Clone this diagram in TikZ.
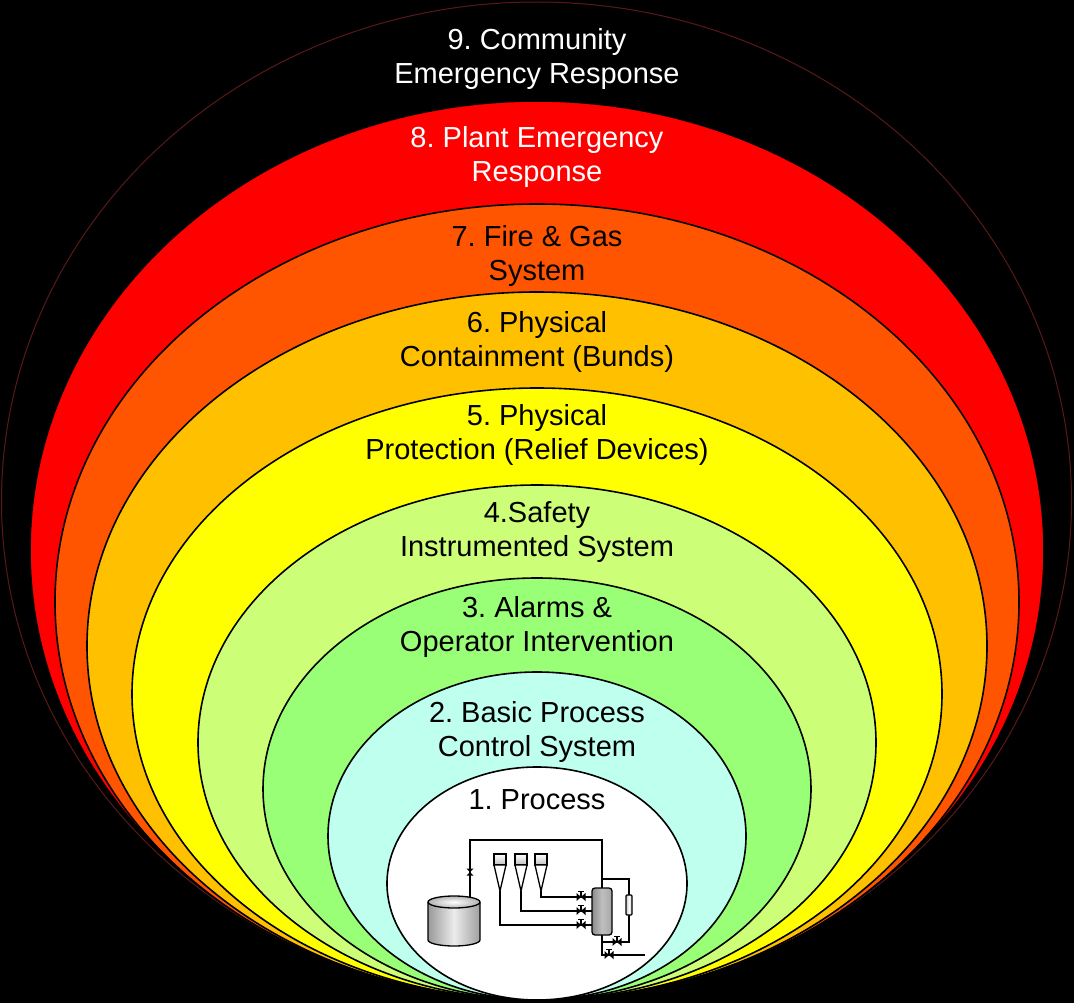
\documentclass[tikz,border=0pt]{standalone}
\usepackage{fontspec}
\setmainfont{Liberation Sans}
\definecolor{c8}{RGB}{255,0,0}
\definecolor{c7}{RGB}{255,85,0}
\definecolor{c6}{RGB}{255,192,0}
\definecolor{c5}{RGB}{255,255,0}
\definecolor{c4}{RGB}{204,255,119}
\definecolor{c3}{RGB}{153,255,119}
\definecolor{c2}{RGB}{191,255,238}
\definecolor{ringnine}{RGB}{90,25,25}
\begin{document}
\frenchspacing
\begin{tikzpicture}[x=1pt,y=-1pt,
  ring/.style={draw=black, line width=1.6pt},
  lbl/.style={align=center, font=\fontsize{29}{34.5}\selectfont, inner sep=0pt},
  pipe/.style={draw=black, line width=1.6pt},
  part/.style={draw=black, line width=1.3pt},
  bowtie/.pic={\fill (-4.5,-4) -- (4.5,4) -- (4.5,-4) -- (-4.5,4) -- cycle;
               \draw[line width=1.2pt] (0,0) -- (0,-5.5) (-3,-5.5) -- (3,-5.5);},
  checkv/.pic={\fill (-3.5,-3.5) -- (3.5,3.5) -- (3.5,-3.5) -- (-3.5,3.5) -- cycle;}
]
\fill[black] (0,0) rectangle (1074,1003);
\useasboundingbox (0,0) rectangle (1074,1003);
% nested layers
\filldraw[fill=black, draw=ringnine, line width=1pt] (536.5,501) ellipse [x radius=535pt, y radius=499pt];
\filldraw[ring, fill=c8] (537,550.5) ellipse [x radius=507pt, y radius=449.5pt];
\filldraw[ring, fill=c7] (537,602) ellipse [x radius=482pt, y radius=398pt];
\filldraw[ring, fill=c6] (537,646) ellipse [x radius=450pt, y radius=354pt];
\filldraw[ring, fill=c5] (537,694) ellipse [x radius=405pt, y radius=306pt];
\filldraw[ring, fill=c4] (537,742.5) ellipse [x radius=339pt, y radius=257.5pt];
\filldraw[ring, fill=c3] (537,789) ellipse [x radius=274pt, y radius=211pt];
\filldraw[ring, fill=c2] (537,836) ellipse [x radius=209pt, y radius=164pt];
\filldraw[ring, fill=white] (537,883.5) ellipse [x radius=150pt, y radius=116.5pt];
% labels
\node[lbl, text=white] (l9) at (537,59) {9. Community\\Emergency Response};
\node[lbl, text=white] (l8) at (537,157) {8. Plant Emergency\\Response};
\node[lbl] (l7) at (537,256) {7. Fire \& Gas\\System};
\node[lbl] (l6) at (537,342) {6. Physical\\Containment (Bunds)};
\node[lbl] (l5) at (537,435) {5. Physical\\Protection (Relief Devices)};
\node[lbl] (l4) at (537,532) {4.Safety\\Instrumented System};
\node[lbl] (l3) at (537,627) {3. Alarms \&\\Operator Intervention};
\node[lbl] (l2) at (537,732) {2. Basic Process\\Control System};
\node[lbl] (l1) at (537,800) {1. Process};
% process sketch: pipes
\draw[pipe] (470,897) -- (470,840) -- (602,840) -- (602,888);
\draw[pipe] (500,891) -- (500,925) -- (592,925);
\draw[pipe] (521,891) -- (521,911) -- (592,911);
\draw[pipe] (541,891) -- (541,897) -- (592,897);
\draw[pipe] (602,879) -- (629,879) -- (629,942) -- (602,942);
\draw[pipe] (602,935) -- (602,955) -- (645,955);
% tank
\path[left color=gray!80, right color=gray!75, middle color=gray!15]
  (428,902) -- (428,940) arc[start angle=180, end angle=360, x radius=26pt, y radius=6pt] -- (480,902) -- cycle;
\draw[part] (428,902) -- (428,940) arc[start angle=180, end angle=360, x radius=26pt, y radius=6pt] -- (480,902);
\draw[part, inner color=white, outer color=gray!60] (454,902) ellipse [x radius=26pt, y radius=6pt];
% funnels
\foreach \fx in {494,515,535}{
  \draw[part, top color=white, bottom color=gray!50] (\fx,854) rectangle (\fx+12,865);
  \draw[part, fill=white] (\fx,865) -- (\fx+12,865) -- (\fx+6,891) -- cycle;
}
% column vessel
\draw[part, rounded corners=3pt, left color=gray!90, right color=gray!70, middle color=gray!50] (592,888) rectangle (612,935);
% instrument
\draw[line width=1.1pt, rounded corners=1pt, left color=gray!45, right color=gray!45, middle color=white] (626,895) rectangle (632,915);
% valves
\pic at (581,897) {bowtie};
\pic at (581,911) {bowtie};
\pic at (581,925) {bowtie};
\pic at (617,942) {bowtie};
\pic at (609,955) {bowtie};
\pic[rotate=90] at (470,872) {checkv};
\end{tikzpicture}
\end{document}
